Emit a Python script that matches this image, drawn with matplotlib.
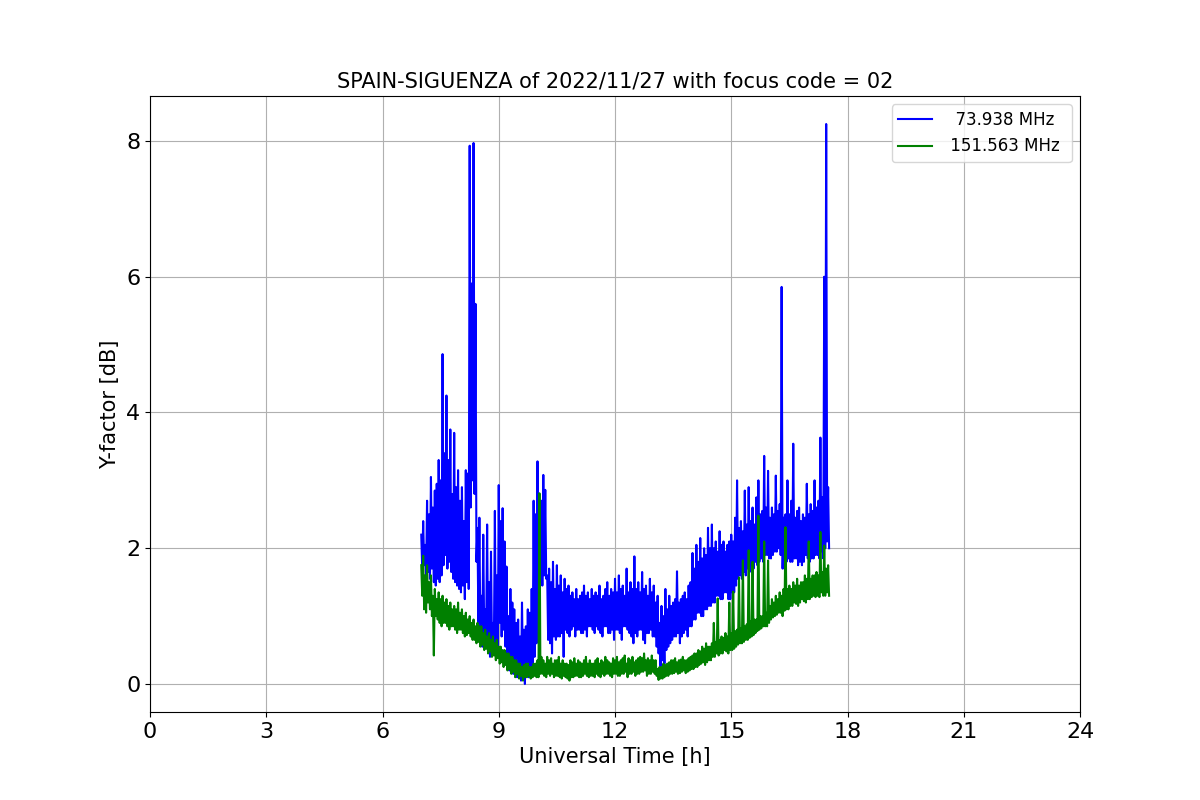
import numpy as np
import matplotlib
matplotlib.use('Agg')
import matplotlib.pyplot as plt

# Y-factor readings in 0.05 h bins from 07:00 to 17:30 UT,
# each bin holds the upper and the lower reading of the noisy trace
t_start = 7.0
t_step = 0.05

freq_a = 73.938
freq_b = 151.563

hi_a = [
    2.20, 2.40, 2.05, 2.70, 2.50, 3.05, 2.60, 2.85, 2.95, 3.30,   # 7.0
    3.00, 4.86, 3.40, 4.25, 3.30, 3.75, 2.80, 3.70, 2.90, 3.15,   # 7.5
    2.70, 2.90, 2.40, 3.15, 3.10, 7.93, 5.90, 7.97, 5.60, 2.30,   # 8.0
    2.45, 1.30, 2.20, 1.10, 2.35, 1.50, 1.95, 0.90, 2.55, 1.60,   # 8.5
    2.93, 2.40, 2.59, 2.10, 1.73, 1.00, 1.40, 1.20, 1.10, 0.90,   # 9.0
    0.95, 0.70, 1.20, 0.80, 0.85, 1.10, 1.05, 1.40, 2.70, 2.50,   # 9.5
    3.28, 2.60, 2.70, 3.08, 2.86, 1.60, 1.70, 1.50, 1.80, 1.40,   # 10.0
    1.75, 1.45, 1.60, 1.35, 1.55, 1.40, 1.45, 1.30, 1.35, 1.25,   # 10.5
    1.40, 1.25, 1.30, 1.35, 1.45, 1.30, 1.35, 1.25, 1.40, 1.30,   # 11.0
    1.35, 1.30, 1.45, 1.25, 1.30, 1.40, 1.50, 1.30, 1.40, 1.35,   # 11.5
    1.55, 1.35, 1.60, 1.40, 1.45, 1.30, 1.70, 1.35, 1.50, 1.40,   # 12.0
    1.88, 1.40, 1.50, 1.35, 1.65, 1.40, 1.45, 1.30, 1.55, 1.35,   # 12.5
    1.45, 1.20, 1.30, 0.90, 1.15, 1.00, 1.40, 1.10, 1.30, 1.15,   # 13.0
    1.20, 1.25, 1.66, 1.20, 1.25, 1.30, 1.35, 1.25, 1.45, 1.50,   # 13.5
    1.93, 1.70, 2.05, 1.80, 2.15, 1.85, 2.00, 1.90, 2.30, 2.00,   # 14.0
    2.35, 2.00, 2.10, 1.95, 2.25, 2.05, 2.10, 1.95, 2.05, 2.10,   # 14.5
    2.20, 2.10, 2.45, 3.00, 2.30, 2.40, 2.25, 2.85, 2.35, 2.90,   # 15.0
    2.40, 2.60, 2.35, 2.75, 3.00, 2.50, 2.55, 3.36, 2.60, 3.14,   # 15.5
    2.45, 2.60, 2.50, 3.07, 2.55, 2.65, 5.85, 2.45, 2.50, 3.00,   # 16.0
    2.50, 2.70, 3.54, 2.45, 2.55, 2.60, 2.40, 2.50, 2.45, 2.95,   # 16.5
    2.50, 2.65, 2.55, 3.00, 2.60, 2.70, 3.63, 2.75, 6.00, 8.25,   # 17.0
    2.90,
]

lo_a = [
    1.70, 1.75, 1.60, 1.65, 1.55, 1.70, 1.50, 1.45, 1.55, 1.50,   # 7.0
    1.60, 1.75, 1.90, 1.70, 1.80, 1.65, 1.55, 1.50, 1.45, 1.40,   # 7.5
    1.35, 1.45, 1.25, 1.50, 1.40, 2.60, 3.00, 2.80, 1.80, 0.90,   # 8.0
    0.75, 0.55, 0.70, 0.70, 0.60, 0.40, 0.55, 0.60, 0.50, 0.45,   # 8.5
    0.90, 0.70, 0.80, 0.55, 0.40, 0.20, 0.30, 0.15, 0.20, 0.10,   # 9.0
    0.15, 0.05, 0.10, 0.00, 0.15, 0.10, 0.20, 0.20, 0.40, 0.60,   # 9.5
    1.20, 1.50, 1.45, 1.60, 1.55, 0.65, 0.60, 0.45, 0.70, 0.65,   # 10.0
    0.70, 0.70, 0.75, 0.40, 0.80, 0.75, 0.70, 0.80, 0.85, 0.70,   # 10.5
    0.80, 0.80, 0.75, 0.75, 0.80, 0.70, 0.85, 0.85, 0.80, 0.75,   # 11.0
    0.85, 0.80, 0.75, 0.70, 0.85, 0.85, 0.75, 0.75, 0.80, 0.65,   # 11.5
    0.80, 0.80, 0.75, 0.65, 0.85, 0.85, 0.80, 0.75, 0.70, 0.60,   # 12.0
    0.75, 0.70, 0.80, 0.80, 0.65, 0.60, 0.75, 0.75, 0.80, 0.70,   # 12.5
    0.70, 0.55, 0.45, 0.26, 0.35, 0.30, 0.50, 0.55, 0.60, 0.65,   # 13.0
    0.70, 0.70, 0.75, 0.60, 0.70, 0.75, 0.80, 0.70, 0.85, 0.85,   # 13.5
    0.95, 0.95, 1.05, 1.05, 1.00, 1.00, 1.10, 1.10, 1.15, 1.15,   # 14.0
    1.20, 1.20, 1.30, 1.30, 1.25, 1.25, 1.35, 1.35, 1.25, 1.25,   # 14.5
    1.35, 1.35, 1.45, 1.55, 1.60, 1.55, 1.65, 1.60, 1.70, 1.65,   # 15.0
    1.75, 1.70, 1.80, 1.75, 1.80, 1.85, 1.80, 1.90, 1.90, 1.85,   # 15.5
    1.85, 1.90, 1.95, 1.95, 2.00, 1.90, 1.70, 1.70, 1.80, 1.85,   # 16.0
    1.80, 1.80, 1.85, 1.85, 1.75, 1.80, 1.75, 1.80, 1.90, 1.85,   # 16.5
    1.80, 1.85, 1.85, 1.90, 1.90, 1.85, 1.95, 1.85, 2.00, 2.10,   # 17.0
    2.00,
]

hi_b = [
    1.75, 1.89, 1.60, 1.75, 1.50, 1.60, 1.30, 1.40, 1.25, 1.35,   # 7.0
    1.25, 1.30, 1.20, 1.25, 1.15, 1.20, 1.10, 1.15, 1.10, 1.20,   # 7.5
    1.05, 1.10, 1.00, 1.05, 0.95, 1.00, 0.90, 0.95, 0.85, 0.90,   # 8.0
    0.85, 0.85, 0.75, 0.80, 0.70, 0.75, 0.65, 0.70, 0.60, 0.65,   # 8.5
    0.55, 0.55, 0.50, 0.50, 0.45, 0.45, 0.40, 0.40, 0.35, 0.35,   # 9.0
    0.30, 0.30, 0.25, 0.28, 0.30, 0.30, 0.25, 0.25, 0.30, 0.30,   # 9.5
    0.35, 2.81, 0.40, 0.35, 0.30, 0.40, 0.35, 0.38, 0.30, 0.35,   # 10.0
    0.35, 0.40, 0.30, 0.35, 0.30, 0.30, 0.28, 0.35, 0.32, 0.38,   # 10.5
    0.30, 0.35, 0.32, 0.30, 0.35, 0.40, 0.30, 0.35, 0.30, 0.30,   # 11.0
    0.35, 0.38, 0.30, 0.35, 0.32, 0.40, 0.35, 0.32, 0.30, 0.38,   # 11.5
    0.35, 0.40, 0.32, 0.35, 0.38, 0.42, 0.30, 0.38, 0.35, 0.40,   # 12.0
    0.32, 0.35, 0.38, 0.40, 0.38, 0.45, 0.35, 0.38, 0.35, 0.42,   # 12.5
    0.35, 0.35, 0.22, 0.25, 0.25, 0.30, 0.28, 0.30, 0.32, 0.35,   # 13.0
    0.35, 0.38, 0.32, 0.35, 0.36, 0.40, 0.35, 0.35, 0.38, 0.40,   # 13.5
    0.42, 0.45, 0.45, 0.50, 0.48, 0.55, 0.52, 0.60, 0.55, 0.55,   # 14.0
    0.60, 0.90, 0.62, 1.26, 0.65, 0.70, 0.68, 0.75, 0.70, 1.20,   # 14.5
    0.75, 1.36, 0.78, 0.80, 1.57, 0.82, 1.82, 0.85, 0.88, 1.97,   # 15.0
    0.92, 1.80, 0.95, 0.95, 2.48, 1.00, 1.00, 2.10, 1.05, 1.82,   # 15.5
    1.15, 1.25, 1.20, 1.30, 1.25, 1.35, 1.30, 1.40, 2.31, 1.40,   # 16.0
    1.45, 1.40, 1.50, 1.45, 1.55, 1.45, 1.50, 1.50, 1.60, 1.55,   # 16.5
    2.10, 1.55, 1.60, 1.60, 1.65, 1.60, 2.24, 1.65, 2.04, 1.70,   # 17.0
    1.75,
]

lo_b = [
    1.30, 1.10, 1.05, 1.20, 1.10, 1.00, 0.42, 1.00, 0.95, 0.90,   # 7.0
    0.85, 0.90, 0.90, 0.85, 0.80, 0.85, 0.85, 0.80, 0.75, 0.80,   # 7.5
    0.80, 0.75, 0.70, 0.72, 0.75, 0.70, 0.65, 0.65, 0.60, 0.62,   # 8.0
    0.55, 0.58, 0.50, 0.52, 0.45, 0.48, 0.40, 0.42, 0.35, 0.38,   # 8.5
    0.30, 0.32, 0.25, 0.28, 0.20, 0.22, 0.15, 0.18, 0.10, 0.15,   # 9.0
    0.08, 0.12, 0.05, 0.10, 0.10, 0.12, 0.08, 0.10, 0.12, 0.10,   # 9.5
    0.10, 0.15, 0.15, 0.12, 0.10, 0.15, 0.12, 0.15, 0.10, 0.12,   # 10.0
    0.12, 0.10, 0.08, 0.12, 0.10, 0.08, 0.05, 0.10, 0.10, 0.12,   # 10.5
    0.12, 0.10, 0.10, 0.12, 0.15, 0.12, 0.10, 0.12, 0.12, 0.10,   # 11.0
    0.15, 0.12, 0.10, 0.15, 0.12, 0.15, 0.15, 0.12, 0.10, 0.15,   # 11.5
    0.15, 0.12, 0.12, 0.15, 0.15, 0.18, 0.10, 0.15, 0.15, 0.18,   # 12.0
    0.12, 0.15, 0.15, 0.18, 0.18, 0.20, 0.12, 0.15, 0.15, 0.18,   # 12.5
    0.15, 0.12, 0.06, 0.08, 0.08, 0.10, 0.12, 0.12, 0.15, 0.15,   # 13.0
    0.16, 0.18, 0.15, 0.16, 0.18, 0.20, 0.16, 0.18, 0.20, 0.22,   # 13.5
    0.22, 0.25, 0.25, 0.28, 0.30, 0.32, 0.28, 0.32, 0.35, 0.35,   # 14.0
    0.40, 0.40, 0.45, 0.42, 0.45, 0.45, 0.50, 0.48, 0.45, 0.50,   # 14.5
    0.50, 0.52, 0.55, 0.58, 0.60, 0.60, 0.62, 0.65, 0.65, 0.68,   # 15.0
    0.70, 0.72, 0.75, 0.78, 0.80, 0.82, 0.85, 0.85, 0.85, 0.90,   # 15.5
    0.95, 0.98, 1.00, 1.02, 1.05, 1.05, 1.00, 1.08, 1.10, 1.10,   # 16.0
    1.15, 1.15, 1.20, 1.18, 1.15, 1.20, 1.25, 1.22, 1.20, 1.25,   # 16.5
    1.25, 1.28, 1.30, 1.28, 1.30, 1.28, 1.35, 1.30, 1.30, 1.35,   # 17.0
    1.30,
]

# upper and lower reading of every bin follow each other in time
yf_a = np.column_stack([hi_a, lo_a]).ravel()
yf_b = np.column_stack([hi_b, lo_b]).ravel()
ut = t_start + (t_step / 2) * np.arange(len(yf_a))

fig, ax = plt.subplots(figsize=(12, 8), dpi=100)

ax.plot(ut, yf_a, color='blue', linewidth=1.5, label='%8.3f MHz ' % freq_a)
ax.plot(ut, yf_b, color='green', linewidth=1.5, label='%8.3f MHz ' % freq_b)

ax.set_xlim(0, 24)
ax.set_xticks(np.arange(0, 25, 3))
ax.tick_params(labelsize=16)
ax.set_xlabel('Universal Time [h]', fontsize=15)
ax.set_ylabel('Y-factor [dB]', fontsize=15)
ax.set_title('SPAIN-SIGUENZA of 2022/11/27 with focus code = 02', fontsize=15)
ax.grid(True)
ax.legend(loc='upper right', fontsize=12)

plt.savefig('out.png')
